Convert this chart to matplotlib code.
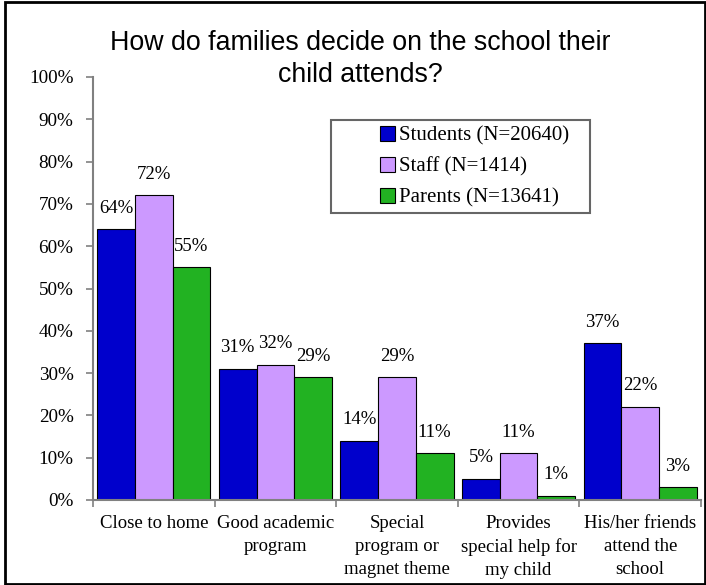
import matplotlib
matplotlib.use("Agg")
import numpy as np
from matplotlib import pyplot as plt
from matplotlib.patches import Rectangle

categories = ["Close to home", "Good academic\nprogram", "Special\nprogram or\nmagnet theme",
              "Provides\nspecial help for\nmy child", "His/her friends\nattend the\nschool"]
series_names = ["Students (N=20640)", "Staff (N=1414)", "Parents (N=13641)"]
students = [64, 31, 14, 5, 37]
staff = [72, 32, 29, 11, 22]
parents = [55, 29, 11, 1, 3]
colors = ["#0000CC", "#CC99FF", "#22B222"]

serif = ["Liberation Serif", "DejaVu Serif"]
sans = ["Liberation Sans", "DejaVu Sans"]

W, H = 706, 585
fig = plt.figure(figsize=(W / 100, H / 100), dpi=100)
ax = fig.add_axes([93 / W, 1 - 500 / H, 608 / W, 423 / H])

x = np.arange(len(categories))
width = 0.31
for i, (vals, name) in enumerate(zip([students, staff, parents], series_names)):
    pos = x + (i - 1) * width
    ax.bar(pos, vals, width, color=colors[i], edgecolor="black", linewidth=0.8, label=name)
    for px, v in zip(pos, vals):
        ax.text(px, v + 5.0, "%d%%" % v, ha="center", va="center", fontsize=13.5, family=serif)

ax.set_xlim(-0.5, len(categories) - 0.5)
ax.set_ylim(0, 100)
ax.set_yticks(range(0, 101, 10))
ax.set_yticklabels(["%d%%" % t for t in range(0, 101, 10)], family=serif, fontsize=13.8)
ax.set_xticks(x)
ax.set_xticklabels(categories, family=serif, fontsize=13.5, linespacing=1.45, va="top")
ax.set_xticks(np.arange(len(categories) + 1) - 0.5, minor=True)
ax.tick_params(axis="x", which="major", length=0, pad=11)
ax.tick_params(axis="x", which="minor", length=5, color="#808080", width=1.2)
ax.tick_params(axis="y", length=5, color="#808080", width=1.2, pad=9)

for s in ["top", "right"]:
    ax.spines[s].set_visible(False)
for s in ["left", "bottom"]:
    ax.spines[s].set_color("#808080")
    ax.spines[s].set_linewidth(1.5)

# legend box is wider than its content on the left, so frame is drawn separately
leg = ax.legend(loc="upper left", bbox_to_anchor=(380 / W, 1 - 126 / H), bbox_transform=fig.transFigure,
                prop={"family": serif, "size": 15}, frameon=False, handlelength=0.7, handleheight=0.7,
                handletextpad=0.2, borderpad=0, labelspacing=0.55, borderaxespad=0)
fig.patches.append(Rectangle((331 / W, 1 - 213 / H), 259 / W, 93 / H, transform=fig.transFigure,
                             fill=False, edgecolor="#666666", linewidth=1.5))

fig.text(360 / W, 1 - 59 / H, "How do families decide on the school their\nchild attends?", ha="center",
         va="center", fontsize=19.3, family=sans, linespacing=1.3)

fig.patches.append(Rectangle((5 / W, 1 / H), 700 / W, 582 / H, transform=fig.transFigure, fill=False,
                             edgecolor="black", linewidth=2))

fig.savefig("out.png", dpi=100)
